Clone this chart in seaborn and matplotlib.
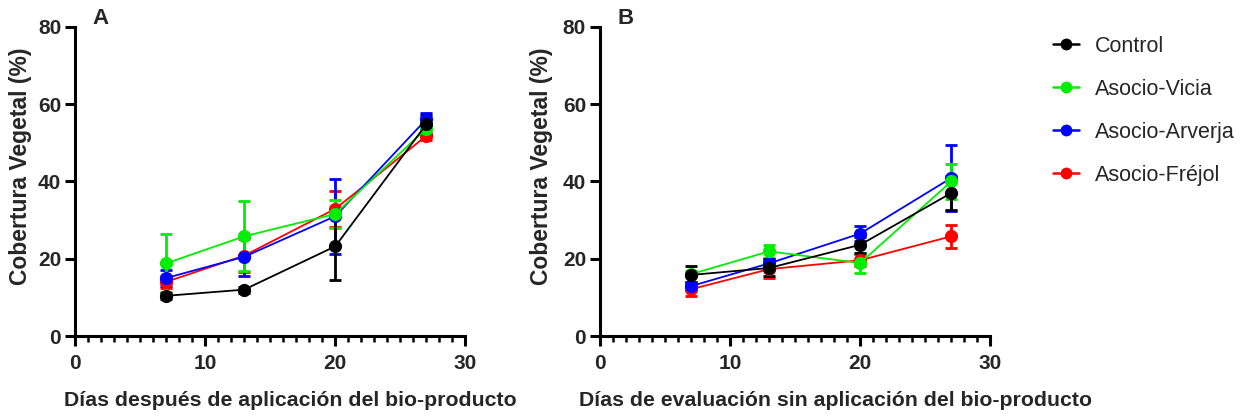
import matplotlib
matplotlib.use("Agg")
import matplotlib.pyplot as plt
from matplotlib.ticker import MultipleLocator
import seaborn as sns
import pandas as pd

sns.set_style("ticks")
plt.rcParams["font.family"] = ["Liberation Sans", "DejaVu Sans"]

# ─────────────────────────────────────────────
# Datos
dias = [7, 13, 20, 27]
tratamientos = ["Control", "Asocio-Vicia", "Asocio-Arverja", "Asocio-Fréjol"]
colores = ["black", "#00ee00", "blue", "red"]

# Panel A: días después de aplicación
a_control = [10.4, 12.0, 23.2, 54.8]
a_control_err = [0.8, 0.8, 8.8, 2.4]
a_vicia = [18.8, 25.8, 31.6, 53.7]
a_vicia_err = [7.5, 9.1, 3.6, 1.5]
a_arverja = [15.0, 20.5, 31.0, 56.1]
a_arverja_err = [2.0, 5.0, 9.7, 1.5]
a_frejol = [14.0, 20.8, 32.9, 51.8]
a_frejol_err = [1.5, 4.3, 4.6, 1.0]

# Panel B: días de evaluación sin aplicación
b_control = [15.8, 17.6, 23.6, 37.0]
b_control_err = [2.2, 2.2, 2.0, 4.3]
b_vicia = [16.0, 21.9, 18.9, 40.0]
b_vicia_err = [0.8, 1.7, 2.5, 4.5]
b_arverja = [12.9, 18.8, 26.5, 40.9]
b_arverja_err = [1.0, 1.0, 2.0, 8.6]
b_frejol = [12.1, 17.3, 19.6, 25.8]
b_frejol_err = [1.8, 2.3, 1.5, 3.0]


def armar(vals, errs):
    filas = []
    for t, v, e in zip(tratamientos, vals, errs):
        for d, y, s in zip(dias, v, e):
            filas.append({"dia": d, "tratamiento": t, "valor": y, "err": s})
    return pd.DataFrame(filas)


df_a = armar([a_control, a_vicia, a_arverja, a_frejol],
             [a_control_err, a_vicia_err, a_arverja_err, a_frejol_err])
df_b = armar([b_control, b_vicia, b_arverja, b_frejol],
             [b_control_err, b_vicia_err, b_arverja_err, b_frejol_err])

paleta = dict(zip(tratamientos, colores))

fig = plt.figure(figsize=(12.51, 4.2), dpi=100)
ax_a = fig.add_axes([0.060, 0.200, 0.312, 0.736])
ax_b = fig.add_axes([0.4796, 0.200, 0.312, 0.736])


def dibujar(ax, df, xlabel, letra, xl_x, yl_x):
    # orden inverso para que Control quede encima
    for t in tratamientos[::-1]:
        sub = df[df["tratamiento"] == t]
        ax.errorbar(sub["dia"], sub["valor"], yerr=sub["err"], fmt="none",
                    ecolor=paleta[t], elinewidth=2, capsize=4, capthick=2, zorder=2)
    sns.lineplot(data=df, x="dia", y="valor", hue="tratamiento",
                 hue_order=tratamientos[::-1], palette=paleta, marker="o",
                 markersize=9.5, markeredgewidth=0, linewidth=1.3, ax=ax,
                 legend=False, zorder=3)
    ax.set_xlim(0, 30)
    ax.set_ylim(0, 80)
    ax.xaxis.set_major_locator(MultipleLocator(10))
    ax.xaxis.set_minor_locator(MultipleLocator(1))
    ax.yaxis.set_major_locator(MultipleLocator(20))
    sns.despine(ax=ax)
    for s in ["left", "bottom"]:
        ax.spines[s].set_linewidth(2.2)
        ax.spines[s].set_color("black")
    ax.tick_params(which="major", length=7, width=2.2, color="black",
                   labelsize=15, pad=3)
    ax.tick_params(axis="x", which="major", pad=6)
    ax.tick_params(which="minor", length=4, width=1.8, color="black")
    for lab in ax.get_xticklabels() + ax.get_yticklabels():
        lab.set_fontweight("bold")
    ax.set_xlabel(xlabel, fontsize=15.3, fontweight="bold")
    ax.set_ylabel("Cobertura Vegetal (%)", fontsize=16.5, fontweight="bold")
    ax.xaxis.set_label_coords(xl_x, -0.178)
    ax.yaxis.set_label_coords(yl_x, 0.55)
    ax.text(0.045, 1.06, letra, transform=ax.transAxes, fontsize=16,
            fontweight="bold", va="top", ha="left")


dibujar(ax_a, df_a, "Días después de aplicación del bio-producto", "A", 0.551, -0.110)
dibujar(ax_b, df_b, "Días de evaluación sin aplicación del bio-producto", "B", 0.603, -0.121)

# Leyenda
manejadores = [plt.Line2D([], [], color=c, marker="o", markersize=8.5,
                          markeredgewidth=0, linewidth=1.8) for c in colores]
fig.legend(manejadores, tratamientos, loc="upper left",
           bbox_to_anchor=(0.835, 0.935), frameon=False, fontsize=15.5,
           handlelength=1.2, labelspacing=1.02, handletextpad=0.75,
           borderaxespad=0.0)

fig.savefig("out.png", dpi=100)
